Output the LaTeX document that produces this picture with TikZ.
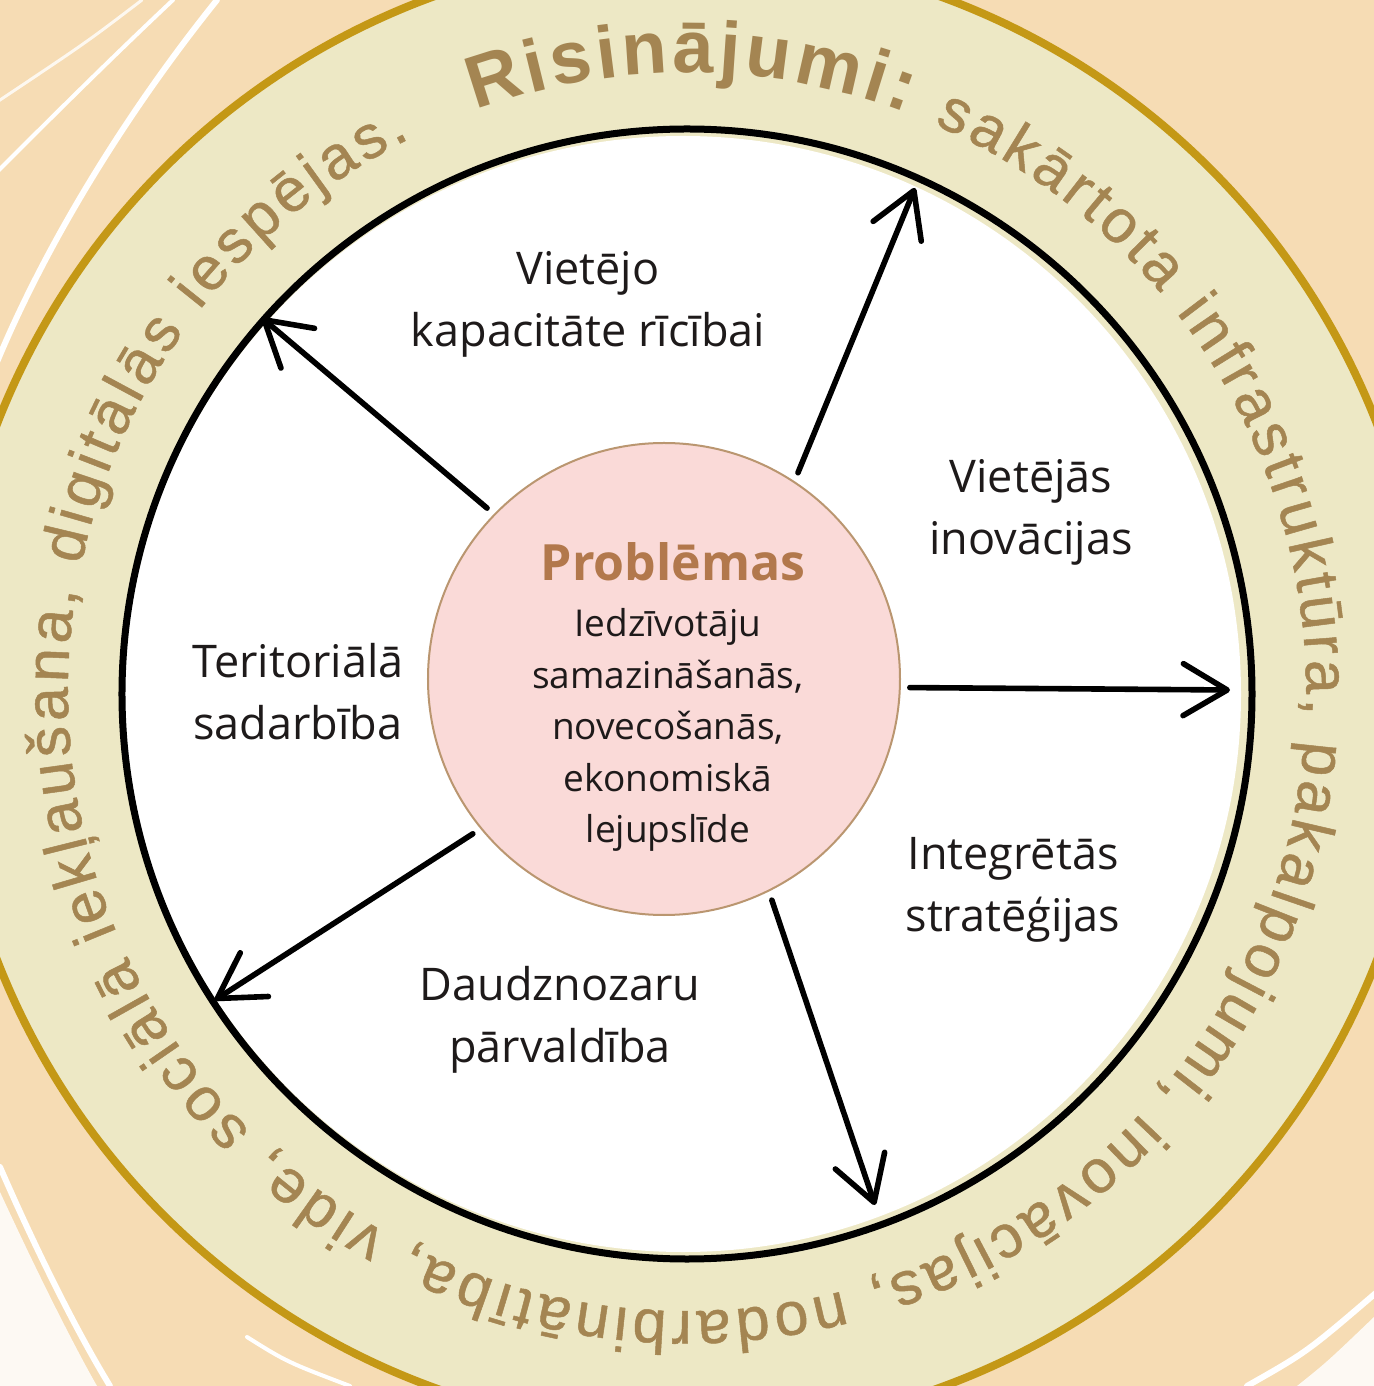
\documentclass[tikz,border=0pt]{standalone}
\usepackage{fontspec}
\setmainfont{Open Sans}
\newfontfamily\ringfont{Liberation Sans}
\newfontfamily\ringmid[FakeBold=0.8]{Liberation Sans}
\usetikzlibrary{arrows.meta, decorations.text, positioning}

\definecolor{peach}{RGB}{246,220,180}
\definecolor{ringfill}{RGB}{237,232,197}
\definecolor{ringgold}{RGB}{196,152,22}
\definecolor{ringtext}{RGB}{164,133,82}
\definecolor{probfill}{RGB}{250,218,216}
\definecolor{probline}{RGB}{186,150,112}
\definecolor{probhead}{RGB}{178,120,76}
\definecolor{inktext}{RGB}{30,26,26}

\newcommand{\ringbig}{\ringfont\bfseries\fontsize{37}{37}\selectfont}
\newcommand{\ringsmall}{\ringmid\fontsize{30.5}{30.5}\selectfont}

\tikzset{
  arr/.style={line width=2.8pt, line cap=round, -{Straight Barb[length=22pt,width=26pt,round]}},
  pillar/.style={align=center, font=\fontsize{22.5}{31}\selectfont, text=inktext, inner sep=0pt},
  streak/.style={white, line cap=round},
}

\begin{document}
\begin{tikzpicture}[x=0.5pt, y=0.5pt]
                \useasboundingbox (-687,-694) rectangle (687,692);

                % Background with brush streaks
                \fill[peach] (-687,-694) rectangle (687,692);
                \draw[streak, line width=3pt] (-470,692) .. controls (-560,580) and (-640,450) .. (-690,330);
                \draw[streak, line width=2pt] (-514,692) .. controls (-580,630) and (-650,560) .. (-690,520);
                \draw[streak, line width=1.5pt, opacity=.8] (-545,692) .. controls (-600,650) .. (-690,590);
                \fill[white, opacity=.85] (-687,-500) .. controls (-650,-580) and (-615,-650) .. (-590,-694) -- (-687,-694) -- cycle;
                \draw[streak, line width=3pt] (-687,-475) .. controls (-650,-560) and (-610,-640) .. (-577,-694);
                \draw[streak, line width=2pt] (-440,-645) .. controls (-400,-670) .. (-337,-694);
                \fill[white, opacity=.85] (610,-694) .. controls (640,-670) .. (687,-625) -- (687,-694) -- cycle;
                \draw[streak, line width=3pt] (560,-694) .. controls (620,-660) .. (690,-600);

                % Outer ring and inner disc
                \fill[ringfill] (0,0) circle (740);
                \draw[ringgold, line width=4pt] (0,0) circle (740);
                \fill[white] (-4,-2) circle (558);
                \draw[line width=3.5pt] (0,-2) circle (565);

                % Text round the ring
                \path[decorate, decoration={text along path, text align={fit to path}, text color=ringtext,
                  text={|\ringbig|Risinājumi: |\ringsmall|sakārtota infrastruktūra, pakalpojumi, inovācijas, nodarbinātība, vide, sociālā iekļaušana, digitālās iespējas.}}]
                  (110:619) arc[start angle=110, end angle=-243.4, radius=619];

                % Centre circle
                \node[circle, draw=probline, line width=1pt, fill=probfill, minimum size=236pt, outer sep=5pt] (prob) at (-23,13) {};
                \node[font=\bfseries\fontsize{25}{25}\selectfont, text=probhead] (probtitle) at (-14,130) {Problēmas};
                \node[align=center, font=\fontsize{18.5}{25.75}\selectfont, text=inktext] (probtext) at (-19,-38)
                  {Iedzīvotāju\\samazināšanās,\\novecošanās,\\ekonomiskā\\lejupslīde};

                % Labels
                \node[pillar] (cap) at (-99,388) {Vietējo\\kapacitāte rīcībai};
                \node[pillar] (inov) at (344,180) {Vietējās\\inovācijas};
                \node[pillar] (terr) at (-389,0) {Teritoriālā\\sadarbība};
                \node[pillar] (gov) at (-127,-328) {Daudznozaru\\pārvaldība};
                \node[pillar] (strat) at (326,-198) {Integrētās\\stratēģijas};

                % Arrow tips on the black circle
                \coordinate (t1) at (-425,374);
                \coordinate (t2) at (228,504);
                \coordinate (t3) at (543,2);
                \coordinate (t4) at (-472,-308);
                \coordinate (t5) at (188,-513);

                % Arrows
                \draw[arr] (prob.136) -- (t1);
                \draw[arr] (prob.57) -- (t2);
                \draw[arr] (prob.-2.6) -- (t3);
                \draw[arr] (prob.219) -- (t4);
                \draw[arr] (prob.-64) -- (t5);
            \end{tikzpicture}
\end{document}
